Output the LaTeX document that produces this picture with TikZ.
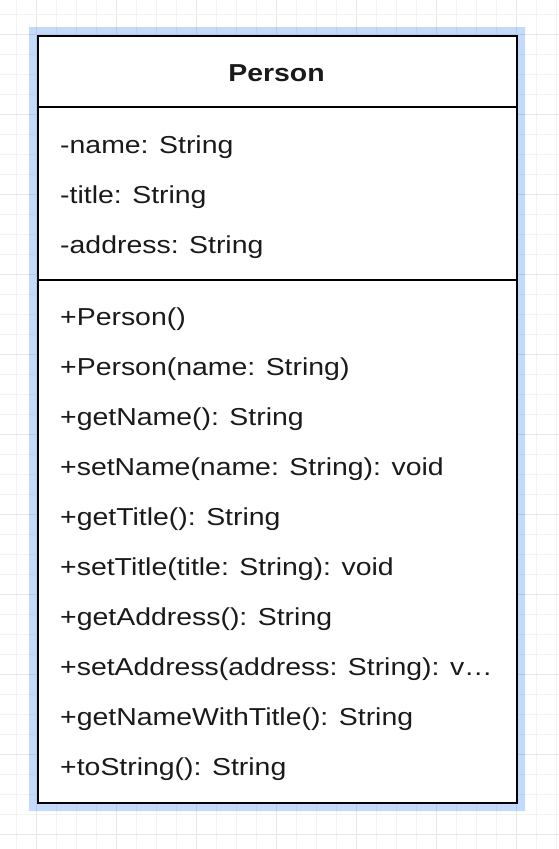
\documentclass[tikz,border=0pt]{standalone}
\usepackage{fontspec}
\setmainfont{Liberation Sans}[FakeStretch=1.16]
\definecolor{gridlight}{RGB}{243,243,243}
\definecolor{griddark}{RGB}{231,231,231}
\definecolor{selblue}{RGB}{20,110,240}
\definecolor{txt}{RGB}{26,26,26}
\tikzset{
  rowtext/.style={anchor=base west, inner sep=0pt, text=txt, font=\fontsize{24.5}{29}\selectfont},
  titletext/.style={anchor=base, inner sep=0pt, text=txt, font=\fontsize{24.5}{29}\selectfont\bfseries},
  umlline/.style={draw=black, line width=2pt},
}
\begin{document}
\begin{tikzpicture}[x=1pt,y=-1pt]
\useasboundingbox (0,0) rectangle (559,849);
\fill[white] (0,0) rectangle (559,849);
% grid
\foreach \k in {0,...,27} {
  \pgfmathtruncatemacro{\gx}{16+20*\k}
  \pgfmathtruncatemacro{\dk}{mod(\k+3,4)==0}
  \ifnum\dk=1 \draw[griddark, line width=1pt] (\gx,0) -- (\gx,849);
  \else \draw[gridlight, line width=1pt] (\gx,0) -- (\gx,849); \fi
}
\foreach \k in {0,...,41} {
  \pgfmathtruncatemacro{\gy}{14+20*\k}
  \pgfmathtruncatemacro{\dk}{mod(\k+3,4)==0}
  \ifnum\dk=1 \draw[griddark, line width=1pt] (0,\gy) -- (559,\gy);
  \else \draw[gridlight, line width=1pt] (0,\gy) -- (559,\gy); \fi
}
% selection halo
\fill[selblue, opacity=0.25, even odd rule] (29,27) rectangle (525,811) (37,35) rectangle (516,802);
% class box
\node[draw=black, line width=2pt, fill=white, minimum width=479pt, minimum height=767pt, inner sep=0pt, anchor=north west] (box) at (37,35) {};
\coordinate (h1l) at (37,107); \coordinate (h1r) at (516,107);
\coordinate (h2l) at (37,280); \coordinate (h2r) at (516,280);
\draw[umlline] (h1l) -- (h1r);
\draw[umlline] (h2l) -- (h2r);
\node[titletext] (title) at (276.5,81) {Person};
\node[rowtext] (a1) at (60,153) {-name: String};
\node[rowtext] (a2) at (60,203) {-title: String};
\node[rowtext] (a3) at (60,253) {-address: String};
\node[rowtext] (m1) at (60,325) {+Person()};
\node[rowtext] (m2) at (60,375) {+Person(name: String)};
\node[rowtext] (m3) at (60,425) {+getName(): String};
\node[rowtext] (m4) at (60,475) {+setName(name: String): void};
\node[rowtext] (m5) at (60,525) {+getTitle(): String};
\node[rowtext] (m6) at (60,575) {+setTitle(title: String): void};
\node[rowtext] (m7) at (60,625) {+getAddress(): String};
\node[rowtext] (m8) at (60,675) {+setAddress(address: String): v…};
\node[rowtext] (m9) at (60,725) {+getNameWithTitle(): String};
\node[rowtext] (m10) at (60,775) {+toString(): String};
\end{tikzpicture}
\end{document}
